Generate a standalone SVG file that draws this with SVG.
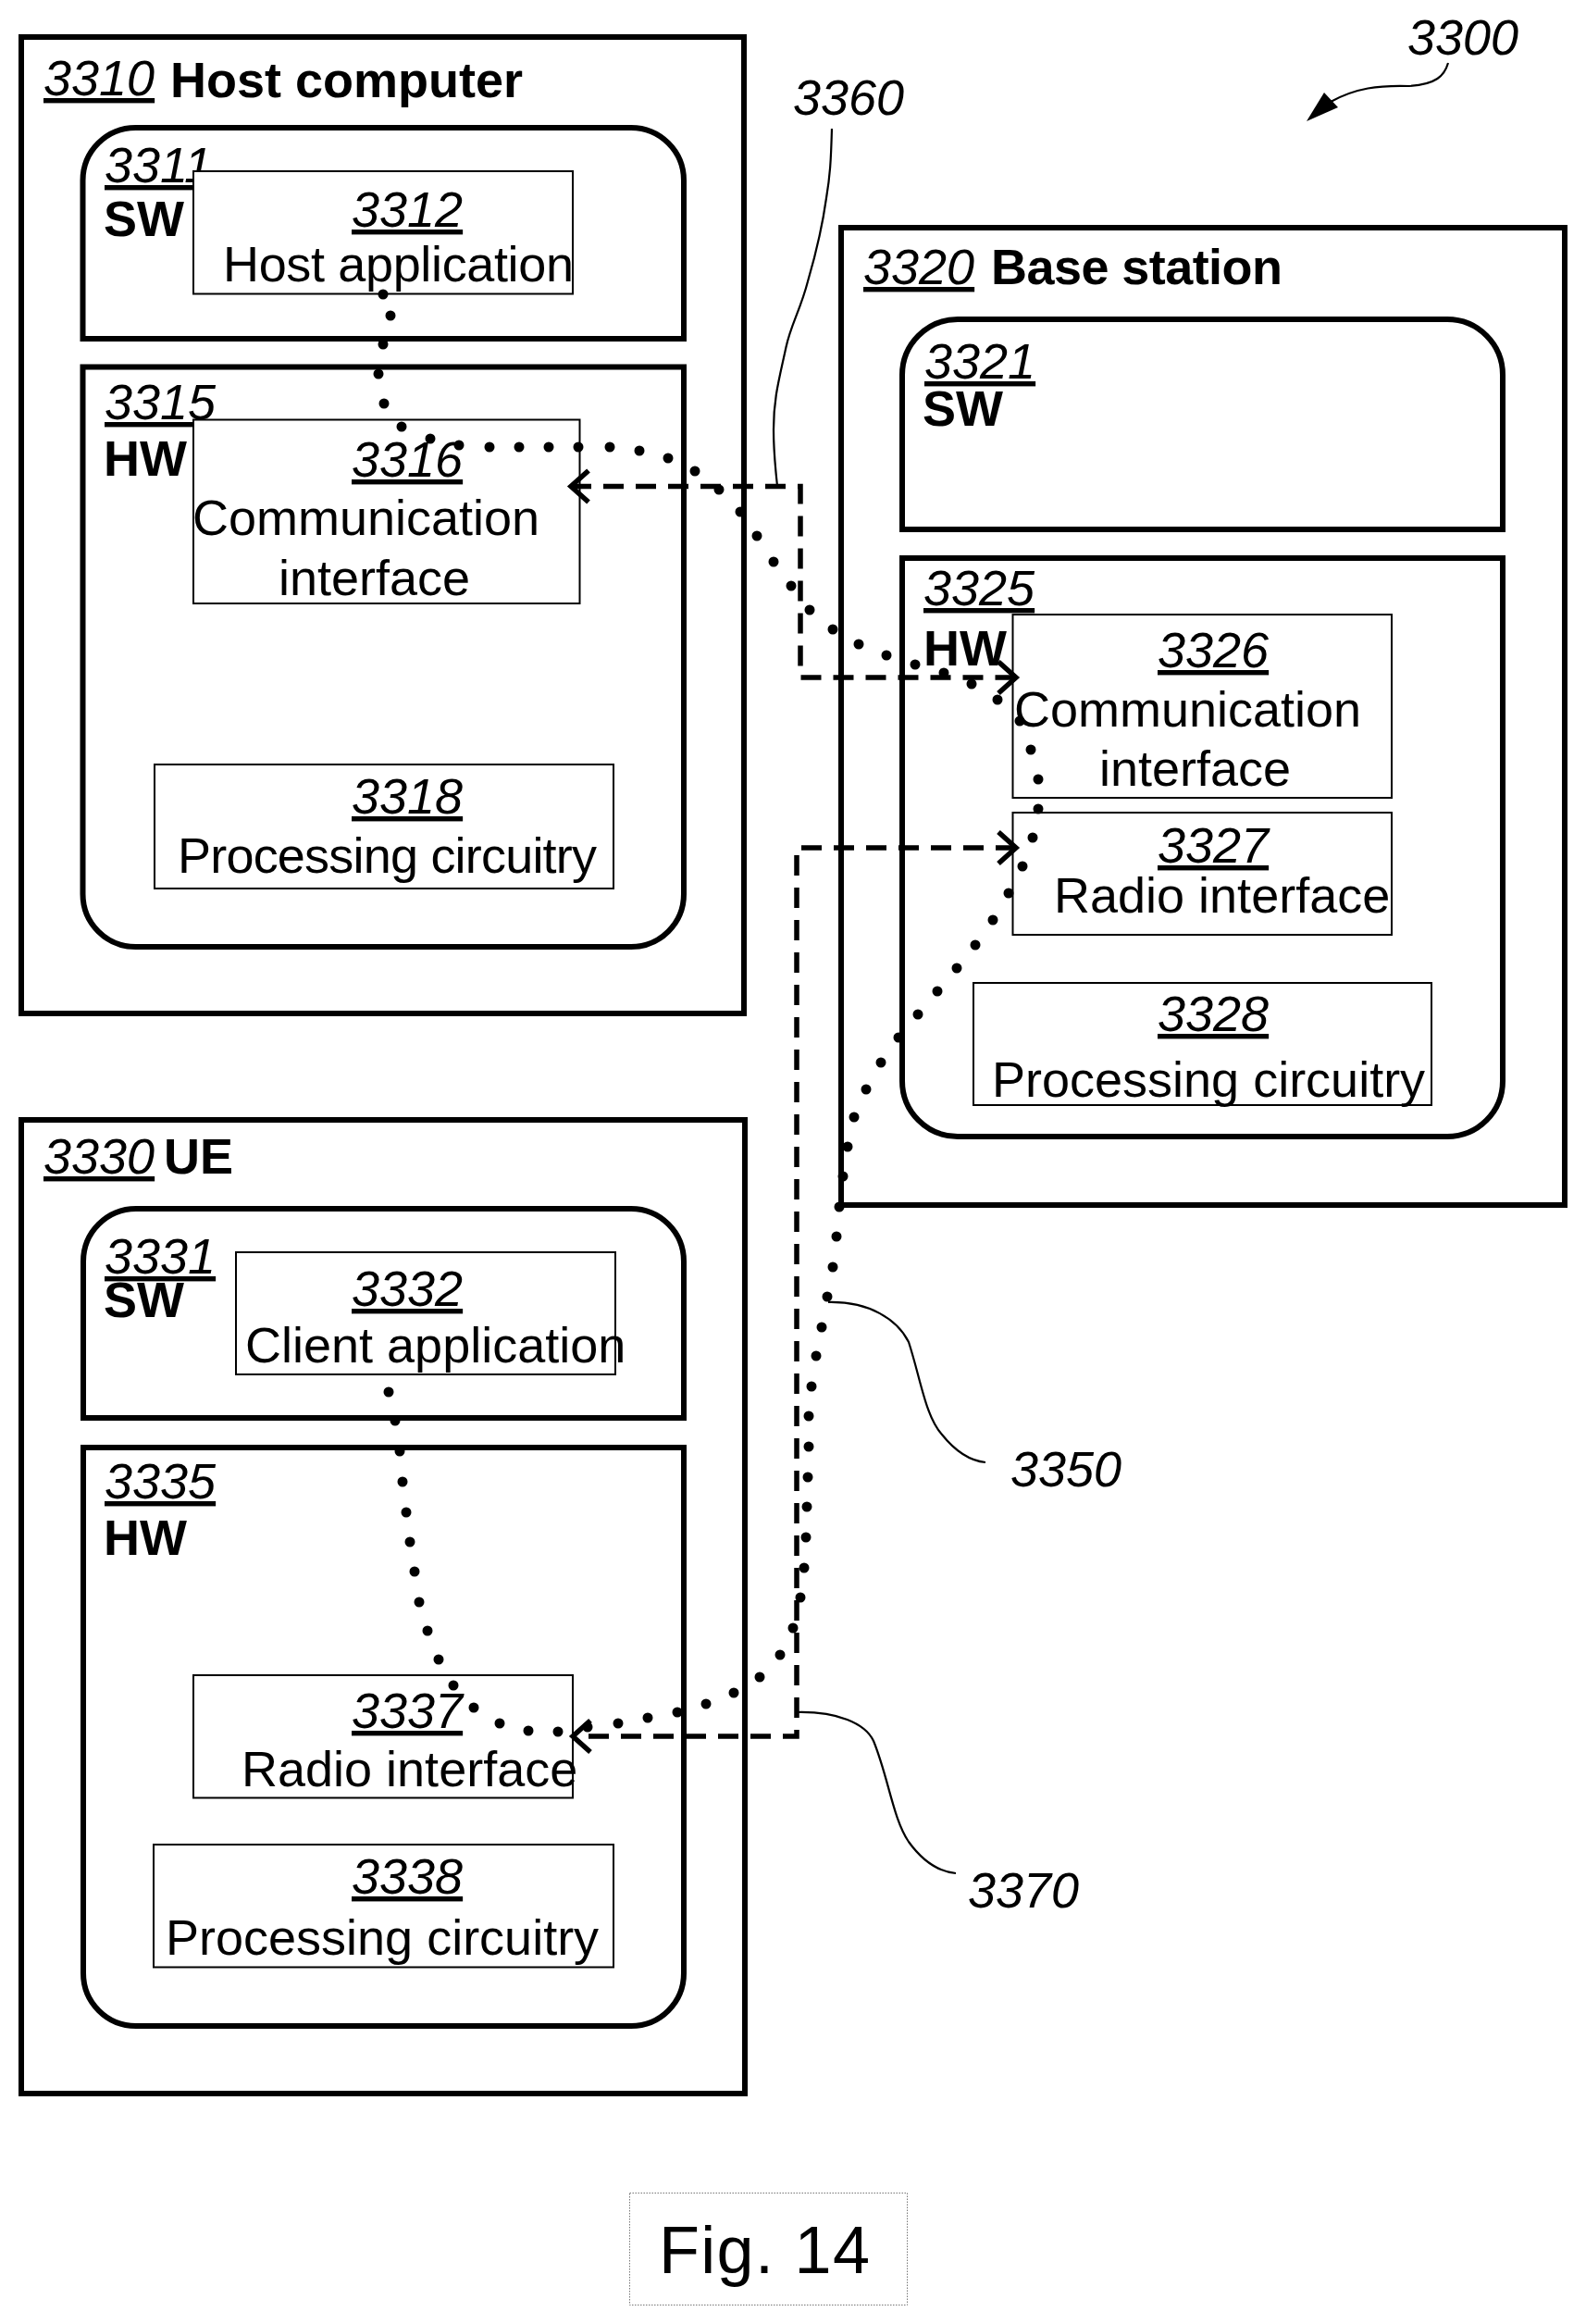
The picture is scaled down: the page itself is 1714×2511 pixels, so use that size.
<svg xmlns="http://www.w3.org/2000/svg" width="1714" height="2511" viewBox="0 0 1714 2511">
<style>
text{font-family:"Liberation Sans",Arial,sans-serif;font-size:54px;fill:#000}
.r{font-style:italic;text-decoration:underline}
.p{font-style:italic}
.b{font-weight:bold}
.o{fill:#fff;stroke:#000;stroke-width:6;stroke-linejoin:miter}
.i{fill:#fff;stroke:#000;stroke-width:2}
.lead{fill:none;stroke:#000;stroke-width:2.2}
.dash{fill:none;stroke:#000;stroke-width:5.5;stroke-dasharray:22 13;marker-start:url(#chev);marker-end:url(#chev)}
.dots{fill:none;stroke:none;marker-start:url(#dot);marker-mid:url(#dot);marker-end:url(#dot)}
</style>
<defs>
<marker id="chev" markerUnits="userSpaceOnUse" markerWidth="40" markerHeight="50" refX="22" refY="20" orient="auto-start-reverse" viewBox="0 0 40 40"><path d="M3 3 L22 20 L3 37" fill="none" stroke="#000" stroke-width="5.5"/></marker>
<marker id="dot" markerUnits="userSpaceOnUse" markerWidth="12" markerHeight="12" refX="6" refY="6" viewBox="0 0 12 12"><circle cx="6" cy="6" r="5.5" fill="#000"/></marker>
</defs>
<rect width="1714" height="2511" fill="#fff"/>

<g id="host-3310"><rect class="o" x="23" y="40" width="781" height="1055"/><text class="r" x="47" y="103">3310</text><text class="b" x="184" y="105" textLength="381">Host computer</text></g>
<g id="sw-3311"><path class="o" d="M89.5 366V195A57 57 0 0 1 146.5 138H682A57 57 0 0 1 739 195V366Z"/><text class="r" x="113" y="197">3311</text><text class="b" x="112" y="255">SW</text></g>
<g id="app-3312"><rect class="i" x="209" y="185" width="410" height="132.500"/><text class="r" x="380" y="245">3312</text><text x="241" y="304" textLength="379">Host application</text></g>
<g id="hw-3315"><path class="o" d="M89.500 396.500H739V966A57 57 0 0 1 682 1023H146.500A57 57 0 0 1 89.500 966Z"/><text class="r" x="113" y="453">3315</text><text class="b" x="112" y="514">HW</text></g>
<g id="comm-3316"><rect class="i" x="209" y="453.500" width="417.500" height="198.500"/><text class="r" x="380" y="515">3316</text><text x="208" y="578">Communication</text><text x="301" y="643">interface</text></g>
<g id="proc-3318"><rect class="i" x="167" y="826" width="496" height="134"/><text class="r" x="380" y="879">3318</text><text x="192" y="943" textLength="453">Processing circuitry</text></g>

<g id="base-3320"><rect class="o" x="909" y="246" width="782" height="1056"/><text class="r" x="933" y="307">3320</text><text class="b" x="1071" y="307" textLength="315">Base station</text></g>
<g id="sw-3321"><path class="o" d="M975 572V405A60 60 0 0 1 1035 345H1564A60 60 0 0 1 1624 405V572Z"/><text class="r" x="999" y="409">3321</text><text class="b" x="997" y="460">SW</text></g>
<g id="hw-3325"><path class="o" d="M975 603H1624V1168A60 60 0 0 1 1564 1228H1035A60 60 0 0 1 975 1168Z"/><text class="r" x="998" y="654">3325</text><text class="b" x="998" y="719">HW</text></g>
<g id="comm-3326"><rect class="i" x="1094.500" y="664" width="409.500" height="198"/><text class="r" x="1251" y="721">3326</text><text x="1096" y="785">Communication</text><text x="1188" y="849">interface</text></g>
<g id="radio-3327"><rect class="i" x="1094.500" y="878" width="409.500" height="132"/><text class="r" x="1251" y="932">3327</text><text x="1139" y="986">Radio interface</text></g>
<g id="proc-3328"><rect class="i" x="1052" y="1062" width="495" height="132"/><text class="r" x="1251" y="1114">3328</text><text x="1072" y="1185">Processing circuitry</text></g>

<g id="ue-3330"><rect class="o" x="23" y="1210" width="782" height="1052"/><text class="r" x="47" y="1268">3330</text><text class="b" x="177" y="1268">UE</text></g>
<g id="sw-3331"><path class="o" d="M90 1532V1363A57 57 0 0 1 147 1306H682A57 57 0 0 1 739 1363V1532Z"/><text class="r" x="113" y="1376">3331</text><text class="b" x="112" y="1423">SW</text></g>
<g id="app-3332"><rect class="i" x="255" y="1353" width="410" height="132"/><text class="r" x="380" y="1411">3332</text><text x="265" y="1472">Client application</text></g>
<g id="hw-3335"><path class="o" d="M90 1564H739V2132A57 57 0 0 1 682 2189H147A57 57 0 0 1 90 2132Z"/><text class="r" x="113" y="1619">3335</text><text class="b" x="112" y="1680">HW</text></g>
<g id="radio-3337"><rect class="i" x="209" y="1810" width="410" height="132.500"/><text class="r" x="380" y="1867">3337</text><text x="261" y="1930">Radio interface</text></g>
<g id="proc-3338"><rect class="i" x="166" y="1993" width="497" height="132.500"/><text class="r" x="380" y="2046">3338</text><text x="179" y="2112">Processing circuitry</text></g>

<g id="figure-label"><rect x="680.500" y="2369.500" width="300" height="121" fill="#fff" stroke="#777" stroke-width="1" stroke-dasharray="1.500 1.500"/><text x="712" y="2456" textLength="228" style="font-size:72px">Fig. 14</text></g>

<g id="connectors">
<polyline class="dots" points="414,318 422,341 414,372 409,404 415,436 434,461 465,474 496,481 529,483 561,483 593,483 625,483 659,483 691,487 722,495 751,509 777,529 800,553 818,579 836,607 855,633 875,659 900,680 928,696 958,708 989,718 1020,727 1050,739 1078,756 1102,779 1114,810 1122,842 1122,874 1116,905 1105,936 1090,965 1073,994 1054,1021 1034,1046 1013,1071 992,1096 971,1121 952,1148 936,1177 923,1207 916,1239 911,1271 907,1304 904,1336 900,1369 894,1401 888,1434 882,1465 877,1498 874,1530 874,1563 873,1596 872,1628 871,1661 869,1694 865,1726 857,1759 843,1788 821,1812 793,1829 763,1841 732,1850 700,1856 668,1862 635,1866 603,1871 571,1870 540,1862 512,1845 490,1821 474,1793 462,1762 453,1731 448,1698 443,1666 439,1634 435,1601 432,1568 427,1535 420,1504"/>
<path class="dash" d="M617 525.500H865V732H1098"/>
<path class="dash" d="M1098 916H861V1876H619"/>
<path class="lead" d="M899 139C898 175 897 190 893 214C888 250 880 280 873 304C865 335 855 350 849.500 375C842 410 836 430 836 464C836 490 838 505 840 525"/>
<path class="lead" d="M895 1407C940 1406 970 1426 982 1450C995 1490 1000 1530 1018 1550C1030 1565 1045 1578 1065 1580"/>
<path class="lead" d="M861 1850C905 1849 935 1862 944 1881C960 1920 965 1965 982 1990C995 2008 1012 2022 1033 2024"/>
<path class="lead" d="M1565 68C1561 82 1552 91 1523 93C1490 92 1465 95 1438 110"/>
<polygon points="1412,131 1431,100 1446,116" fill="#000"/>
</g>

<g id="labels"><text class="p" x="1521" y="59">3300</text><text class="p" x="857" y="124">3360</text><text class="p" x="1092" y="1606">3350</text><text class="p" x="1046" y="2061">3370</text></g>
</svg>
